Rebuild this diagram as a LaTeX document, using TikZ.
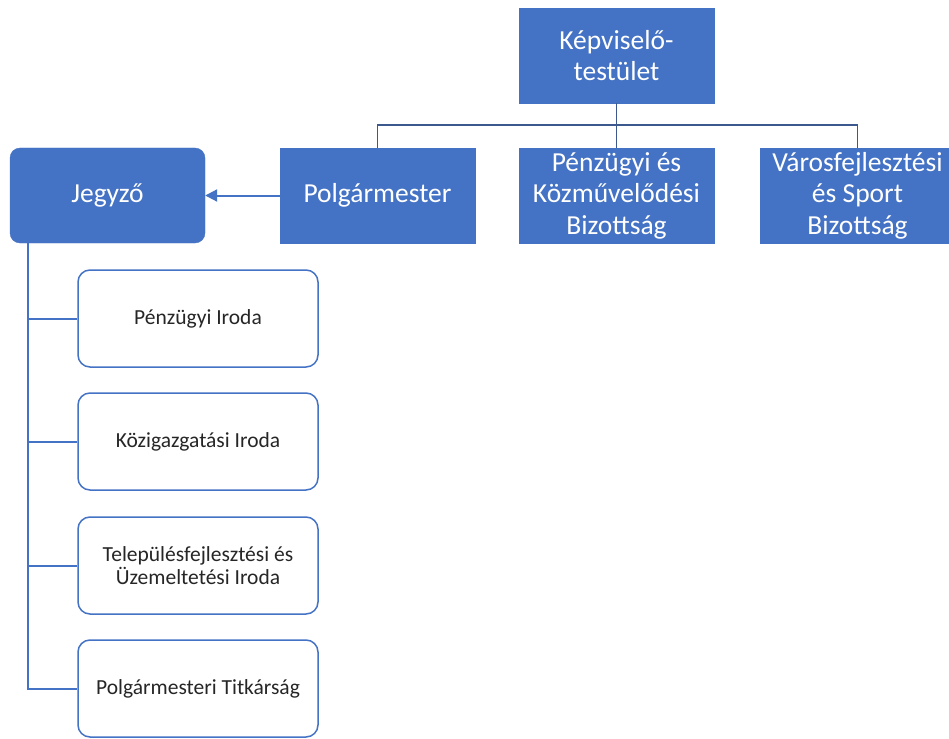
\documentclass[tikz,border=0pt]{standalone}
\usepackage{fontspec}
\setmainfont{Carlito}
\usetikzlibrary{arrows.meta,calc}
\definecolor{ublue}{HTML}{4472C4}
\definecolor{lblue}{HTML}{2F528F}
\begin{document}
\begin{tikzpicture}[x=1pt,y=-1pt,
  bluebox/.style={fill=ublue,draw=ublue,text=white,minimum width=195pt,minimum height=95pt,
    align=center,inner sep=1pt,font=\fontsize{27.5}{31.5}\selectfont},
  whitebox/.style={fill=white,draw=ublue,line width=1.5pt,rounded corners=12pt,minimum width=240pt,
    minimum height=97pt,align=center,font=\fontsize{21.5}{22.5}\selectfont,text=black!85},
  tree/.style={draw=lblue!85!gray,line width=1.3pt},
  side/.style={draw=ublue,line width=2pt}]
\useasboundingbox (0,0) rectangle (949,738);
\clip (0,0) rectangle (949,738);
\node[bluebox] (kep) at (616.5,55.5) {Képviselő-\\testület};
\node[bluebox] (polg) at (377.5,195.5) {Polgármester};
\node[bluebox] (penz) at (616.5,195.5) {Pénzügyi és\\Közművelődési\\Bizottság};
\node[bluebox] (varos) at (857.5,195.5) {Városfejlesztési\\és Sport\\Bizottság};
\node[bluebox,rounded corners=10pt] (jegy) at (107.5,195.5) {Jegyző};
\node[whitebox] (b1) at (198,318.5) {Pénzügyi Iroda};
\node[whitebox] (b2) at (198,441.5) {Közigazgatási Iroda};
\node[whitebox] (b3) at (198,565.5) {Településfejlesztési és\\Üzemeltetési Iroda};
\node[whitebox] (b4) at (198,688.5) {Polgármesteri Titkárság};
\coordinate (bus) at (616.5,125);
\coordinate (jtop) at (28,243);
\draw[tree] (kep.south) -- (bus);
\draw[tree] (polg.north) |- (bus) -| (varos.north);
\draw[tree] (bus) -- (penz.north);
\draw[side,-{Triangle[length=12pt,width=12pt]}] (polg.west) -- (jegy.east);
\draw[side] (jtop) |- (b4.west);
\draw[side] (b1.west) -- (b1.west -| jtop);
\draw[side] (b2.west) -- (b2.west -| jtop);
\draw[side] (b3.west) -- (b3.west -| jtop);
\end{tikzpicture}
\end{document}
